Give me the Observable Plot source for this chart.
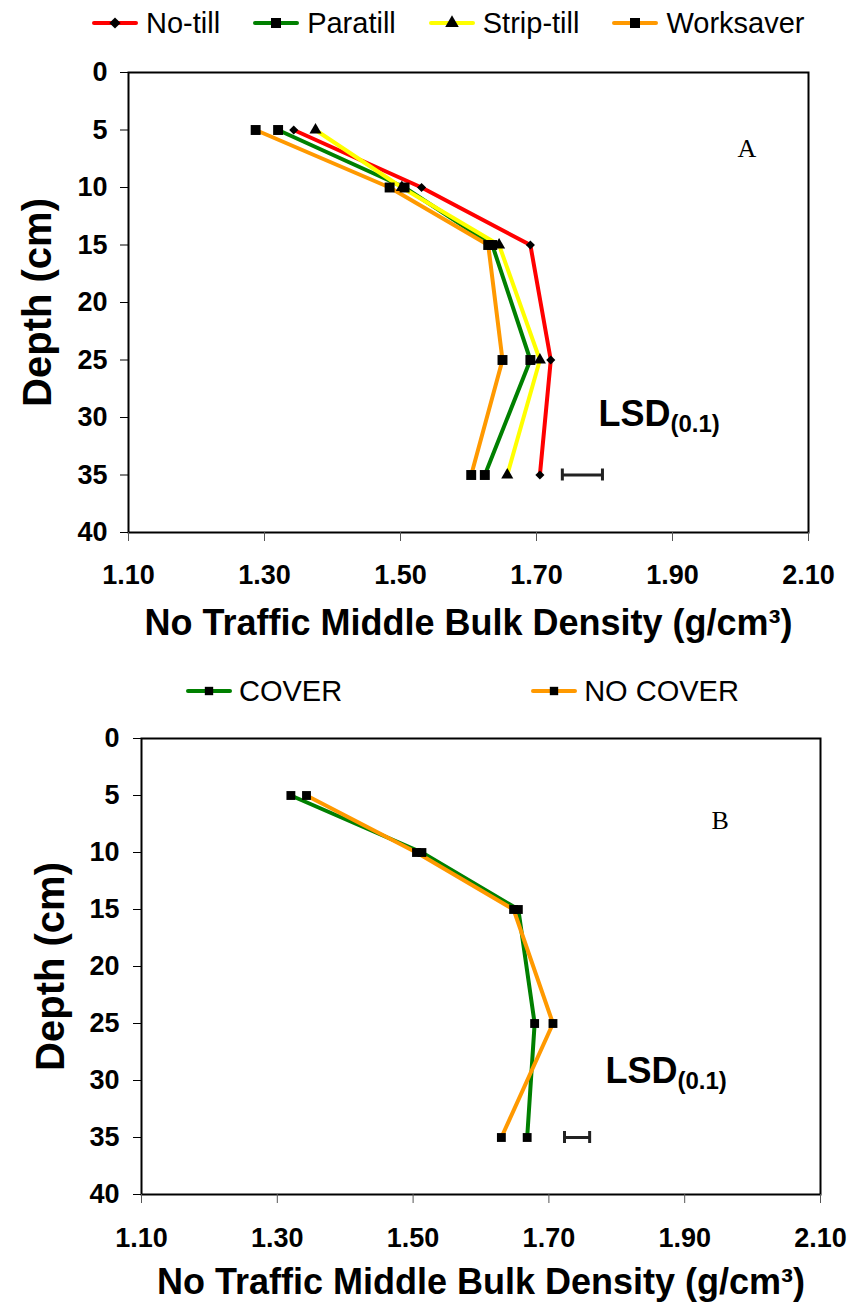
<!DOCTYPE html>
<html>
<head>
<meta charset="utf-8">
<script src="https://cdn.jsdelivr.net/npm/d3@7"></script>
<script src="https://cdn.jsdelivr.net/npm/@observablehq/plot@0.6"></script>
<style>
  body { margin: 0; background: #fff; }
  #wrap { position: relative; width: 853px; height: 1306px; overflow: hidden; background: #fff;
          font-family: "Liberation Sans", Arial, sans-serif; color: #000; }
  .legend { position: absolute; display: flex; align-items: center; white-space: nowrap; line-height: 1; }
  .legend .item { display: flex; align-items: center; }
  .legend svg { display: block; overflow: visible; }
  .panel { position: absolute; left: 0; }
</style>
</head>
<body>
<div id="wrap"></div>
<script>
// ---------------- data ----------------
const depths = [5, 10, 15, 25, 35];

// Panel A
const seriesA = ["No-till", "Paratill", "Strip-till", "Worksaver"];
const noTill    = [1.343, 1.531, 1.691, 1.721, 1.705];
const paratill  = [1.320, 1.506, 1.635, 1.691, 1.624];
const stripTill = [1.375, 1.502, 1.645, 1.705, 1.657];
const worksaver = [1.287, 1.484, 1.629, 1.650, 1.604];
const lsdA = [{x1: 1.738, x2: 1.797, depth: 35}];

// Panel B
const seriesB = ["COVER", "NO COVER"];
const cover   = [1.320, 1.513, 1.655, 1.679, 1.668];
const noCover = [1.343, 1.505, 1.648, 1.706, 1.630];
const lsdB = [{x1: 1.723, x2: 1.760, depth: 35}];

// axes
const xTicks = [1.10, 1.30, 1.50, 1.70, 1.90, 2.10];
const yTicks = [0, 5, 10, 15, 20, 25, 30, 35, 40];
const xTitle = "No Traffic Middle Bulk Density (g/cm³)";
const yTitle = "Depth (cm)";
const lsdText = "LSD";
const lsdSub = "(0.1)";

// ---------------- styles ----------------
const colorsA  = ["#ff0000", "#008000", "#ffff00", "#ff9900"];
const symbolsA = ["diamond2", "square", "triangle", "square"];
const radiiA   = [4.1, 5.6, 4.5, 5.6];
const colorsB  = ["#008000", "#ff9900"];
const symbolsB = ["square", "square"];
const radiiB   = [5.0, 5.0];

function table(names, values) {
  return names.flatMap((name, i) =>
    depths.map((d, j) => ({series: name, depth: d, density: values[i][j]})));
}

const wrap = document.getElementById("wrap");

function legend(names, colors, symbols, opts) {
  const div = document.createElement("div");
  div.className = "legend";
  div.style.left = opts.left + "px";
  div.style.top = opts.top + "px";
  div.style.height = opts.height + "px";
  div.style.fontSize = opts.fontSize + "px";
  names.forEach((name, i) => {
    const item = document.createElement("div");
    item.className = "item";
    item.style.marginRight = (i < names.length - 1 ? opts.gap : 0) + "px";
    const w = opts.swatch, h = 20;
    const sym = d3.symbol().type({
      diamond2: d3.symbolDiamond2, square: d3.symbolSquare, triangle: d3.symbolTriangle
    }[symbols[i]]).size(opts.markerSize[i])();
    item.innerHTML =
      `<svg width="${w}" height="${h}"><line x1="2" x2="${w - 2}" y1="${h/2}" y2="${h/2}" stroke="${colors[i]}" stroke-width="4" stroke-linecap="round"/>` +
      `<path transform="translate(${w/2},${h/2})" d="${sym}" fill="#000"/></svg>` +
      `<span style="margin-left:${opts.textGap}px">${name}</span>`;
    div.appendChild(item);
  });
  wrap.appendChild(div);
}

function panel(cfg) {
  const data = table(cfg.names, cfg.values);
  const m = cfg.margin;
  const marks = [
    Plot.frame({stroke: "#000", strokeWidth: 2}),
    Plot.axisX({ticks: xTicks, tickFormat: d3.format(".2f"), tickSize: 9, tickPadding: cfg.xPad,
                fontSize: 27, fontWeight: "bold", label: null, stroke: "#555"}),
    Plot.axisY({ticks: yTicks, tickSize: 8, tickPadding: cfg.yPad,
                fontSize: 27, fontWeight: "bold", label: null}),
    Plot.line(data, {x: "density", y: "depth", z: "series", stroke: "series",
                     strokeWidth: 4, strokeLinejoin: "round", strokeLinecap: "round"}),
    ...cfg.names.map((name, i) =>
      Plot.dot(data.filter(d => d.series === name),
               {x: "density", y: "depth", symbol: () => cfg.symbols[i], r: cfg.radii[i],
                fill: "#000", stroke: "none"})),
    Plot.ruleY(cfg.lsd, {x1: "x1", x2: "x2", y: "depth", stroke: "#222", strokeWidth: 3}),
    Plot.ruleX(cfg.lsd.flatMap(d => [{v: d.x1, depth: d.depth}, {v: d.x2, depth: d.depth}]),
               {x: "v", y1: "depth", y2: "depth", insetTop: -6, insetBottom: -6,
                stroke: "#222", strokeWidth: 3}),
    Plot.text([lsdText], {text: d => d, frameAnchor: "top-left", dx: cfg.lsdDx, dy: cfg.lsdDy,
                          textAnchor: "start", lineAnchor: "bottom", fontSize: 36, fontWeight: "bold"}),
    Plot.text([lsdSub], {text: d => d, frameAnchor: "top-left", dx: cfg.lsdDx + 72, dy: cfg.lsdDy + 6,
                         textAnchor: "start", lineAnchor: "bottom", fontSize: 24, fontWeight: "bold"}),
    Plot.text([cfg.letter], {text: d => d, frameAnchor: "top-left", dx: cfg.letterDx, dy: cfg.letterDy,
                             textAnchor: "start", lineAnchor: "bottom", fontSize: 26,
                             fontWeight: "normal", fontFamily: "'Liberation Serif', 'Times New Roman', serif"}),
    Plot.text([xTitle], {text: d => d, frameAnchor: "bottom", dy: cfg.titleDy, lineAnchor: "middle",
                         fontSize: 36, fontWeight: "bold"}),
    Plot.text([yTitle], {text: d => d, frameAnchor: "left", dx: cfg.yTitleDx, rotate: -90,
                         lineAnchor: "middle", textAnchor: "middle", fontSize: 40, fontWeight: "bold"})
  ];
  const svg = Plot.plot({
    width: 853,
    height: cfg.height,
    marginTop: m[0], marginRight: m[1], marginBottom: m[2], marginLeft: m[3],
    style: {fontFamily: "'Liberation Sans', Arial, sans-serif", background: "#fff", color: "#000", overflow: "visible"},
    x: {domain: [1.10, 2.10]},
    y: {domain: [0, 40], reverse: true},
    color: {domain: cfg.names, range: cfg.colors},
    symbol: {domain: cfg.symbols, range: cfg.symbols},
    marks
  });
  svg.classList.add("panel");
  svg.style.position = "absolute";
  svg.style.top = cfg.top + "px";
  svg.style.left = "0px";
  wrap.appendChild(svg);
}

legend(seriesA, colorsA, symbolsA, {left: 92, top: 0, height: 46, fontSize: 29, gap: 33, swatch: 46,
       textGap: 8, markerSize: [80, 100, 80, 100]});

panel({names: seriesA, values: [noTill, paratill, stripTill, worksaver],
       colors: colorsA, symbols: symbolsA, radii: radiiA, lsd: lsdA, letter: "A",
       top: 45, height: 605, margin: [27, 45, 118, 128], yPad: 13, xPad: 23,
       lsdDx: 470, lsdDy: 353, letterDx: 609, letterDy: 84, titleDy: 91, yTitleDx: -90});

legend(seriesB, colorsB, symbolsB, {left: 186, top: 668, height: 46, fontSize: 29, gap: 189, swatch: 46,
       textGap: 7, markerSize: [70, 70]});

panel({names: seriesB, values: [cover, noCover],
       colors: colorsB, symbols: symbolsB, radii: radiiB, lsd: lsdB, letter: "B",
       top: 715, height: 591, margin: [23, 33, 112, 141], yPad: 14, xPad: 24,
       lsdDx: 464, lsdDy: 344, letterDx: 570, letterDy: 90, titleDy: 88, yTitleDx: -90});
</script>
</body>
</html>
